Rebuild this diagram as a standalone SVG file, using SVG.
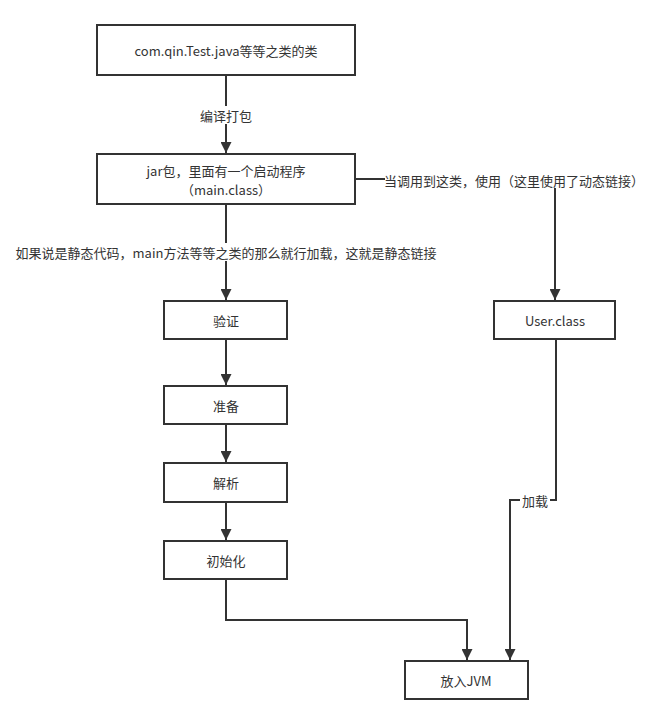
<svg xmlns="http://www.w3.org/2000/svg" width="661" height="724" viewBox="0 0 661 724">
<style>
.n{fill:#fff;stroke:#333;stroke-width:2}
text{font-family:"Noto Sans CJK SC","Liberation Sans",sans-serif;font-size:13px;fill:#333;text-anchor:middle;dominant-baseline:central}
.e{fill:none;stroke:#333;stroke-width:2}
.bg{fill:#fff}
</style>
<defs>
<marker id="ar" viewBox="0 0 10 10" refX="10" refY="5" markerWidth="11" markerHeight="11" orient="auto" markerUnits="userSpaceOnUse"><path d="M0,0L10,5L0,10z" fill="#333"/></marker></defs>
<rect width="661" height="724" fill="#fff"/>
<g id="connectors">
<path class="e" d="M226 75V153" marker-end="url(#ar)"/>
<rect class="bg" x="196" y="106" width="60" height="18"/><text x="226" y="115">编译打包</text>
<path class="e" d="M226 204V300" marker-end="url(#ar)"/>
<rect class="bg" x="14" y="243" width="424" height="18"/><text x="226" y="252">如果说是静态代码，main方法等等之类的那么就行加载，这就是静态链接</text>
<path class="e" d="M226 339V385" marker-end="url(#ar)"/>
<path class="e" d="M226 424V462" marker-end="url(#ar)"/>
<path class="e" d="M226 502V540" marker-end="url(#ar)"/>
<path class="e" d="M226 579V620H467V660" marker-end="url(#ar)"/>
<path class="e" d="M355 179H385"/>
<path class="e" d="M555 188V300" marker-end="url(#ar)"/>
<text x="384" y="180" style="text-anchor:start">当调用到这类，使用（这里使用了动态链接）</text>
<path class="e" d="M556 339V500H510V660" marker-end="url(#ar)"/>
<rect class="bg" x="520" y="491" width="30" height="18"/><text x="535" y="500">加载</text>
</g>
<g id="n1"><rect class="n" x="97" y="25" width="258" height="50"/><text x="226" y="50">com.qin.Test.java等等之类的类</text></g>
<g id="n2"><rect class="n" x="97" y="154" width="258" height="50"/><text x="226" y="170">jar包，里面有一个启动程序</text><text x="226" y="189">（main.class）</text></g>
<g id="n3"><rect class="n" x="164" y="301" width="123" height="38"/><text x="226" y="320">验证</text></g>
<g id="n4"><rect class="n" x="164" y="386" width="123" height="38"/><text x="226" y="405">准备</text></g>
<g id="n5"><rect class="n" x="164" y="463" width="123" height="39"/><text x="226" y="482">解析</text></g>
<g id="n6"><rect class="n" x="164" y="541" width="123" height="38"/><text x="226" y="560">初始化</text></g>
<g id="n7"><rect class="n" x="494" y="301" width="121" height="38"/><text x="555" y="320">User.class</text></g>
<g id="n8"><rect class="n" x="405" y="661" width="123" height="38"/><text x="466" y="680">放入JVM</text></g>
</svg>
